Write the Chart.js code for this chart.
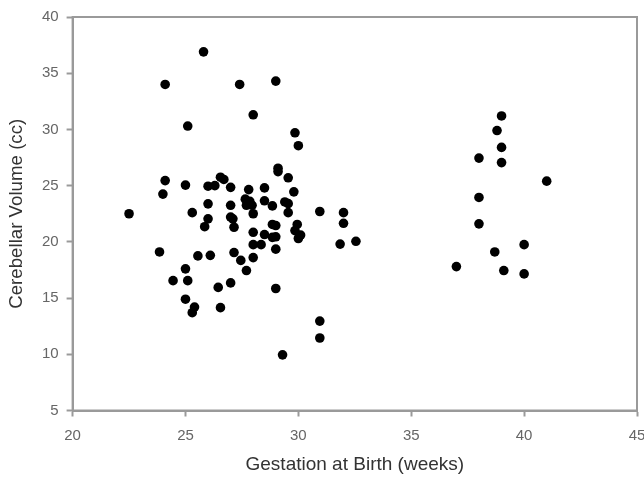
<!DOCTYPE html>
<html>
<head>
<meta charset="utf-8">
<script src="https://cdn.jsdelivr.net/npm/chart.js@4/dist/chart.umd.min.js"></script>
<style>
  html, body { margin: 0; padding: 0; background: #fff; }
  #wrap { width: 644px; height: 477px; }
</style>
</head>
<body>
<div id="wrap"><canvas id="chart"></canvas></div>
<script>
// gestation at birth (weeks) and cerebellar volume (cc)
const gestationWeeks = [
  25.8, 24.1, 27.4, 29.0, 28.0, 25.1, 29.85, 30.0, 29.1, 29.1,
  29.55, 29.8, 24.1, 24.0, 25.0, 26.0, 26.3, 26.55, 26.7, 27.0,
  27.8, 28.5, 26.0, 27.0, 27.65, 27.85, 27.7, 27.95, 28.5, 28.85,
  29.4, 29.55, 29.55, 28.0, 22.5, 25.3, 26.0, 25.85, 27.0, 27.1,
  27.15, 28.0, 28.5, 28.85, 29.0, 28.85, 29.0, 29.95, 29.85, 30.1,
  30.0, 28.0, 28.35, 29.0, 30.95, 32.0, 32.0, 31.85, 32.55, 23.85,
  25.55, 26.1, 27.15, 27.45, 28.0, 27.7, 25.0, 24.45, 25.1, 26.45,
  27.0, 29.0, 25.0, 25.4, 25.3, 26.55, 30.95, 30.95, 29.3,
  39.0, 38.8, 39.0, 38.0, 39.0, 41.0, 38.0, 38.0, 40.0, 38.7,
  37.0, 39.1, 40.0
];
const cerebellarVolume = [
  36.9, 34.0, 34.0, 34.3, 31.3, 30.3, 29.7, 28.55, 26.55, 26.25,
  25.7, 24.45, 25.45, 24.25, 25.05, 24.95, 25.0, 25.75, 25.55, 24.85,
  24.65, 24.8, 23.38, 23.25, 23.8, 23.6, 23.25, 23.25, 23.65, 23.2,
  23.55, 23.4, 22.6, 22.5, 22.5, 22.6, 22.05, 21.35, 22.2, 22.05,
  21.3, 20.85, 20.65, 21.55, 21.45, 20.4, 20.45, 21.55, 21.0, 20.6,
  20.3, 19.75, 19.75, 19.35, 22.7, 22.6, 21.65, 19.8, 20.05, 19.1,
  18.75, 18.8, 19.05, 18.35, 18.6, 17.45, 17.6, 16.55, 16.55, 15.95,
  16.35, 15.85, 14.9, 14.2, 13.7, 14.15, 12.95, 11.45, 9.95,
  31.2, 29.9, 28.4, 27.45, 27.05, 25.4, 23.95, 21.6, 19.75, 19.1,
  17.8, 17.45, 17.15
];

const xTicks = [20, 25, 30, 35, 40, 45];
const yTicks = [5, 10, 15, 20, 25, 30, 35, 40];
const xTitle = 'Gestation at Birth (weeks)';
const yTitle = 'Cerebellar Volume (cc)';

const points = gestationWeeks.map((x, i) => ({ x: x, y: cerebellarVolume[i] }));

const axisGray = '#9a9a9a';
const fontFamily = 'Liberation Sans, Arial, sans-serif';

// draws the grey frame round the plot area (top and right sides too)
const frame = {
  id: 'frame',
  afterDraw(chart) {
    const a = chart.chartArea;
    const ctx = chart.ctx;
    ctx.save();
    ctx.strokeStyle = axisGray;
    ctx.lineWidth = 2;
    ctx.strokeRect(a.left, a.top, a.right - a.left, a.bottom - a.top);
    ctx.restore();
  }
};

new Chart(document.getElementById('chart').getContext('2d'), {
  type: 'scatter',
  data: {
    datasets: [{
      data: points,
      backgroundColor: '#000',
      borderColor: '#000',
      borderWidth: 0,
      pointRadius: 4.8,
      pointHoverRadius: 4.8,
    }],
  },
  options: {
    responsive: true,
    maintainAspectRatio: false,
    animation: false,
    layout: { padding: { top: 16, right: 7, left: 0, bottom: 0 } },
    plugins: {
      legend: { display: false },
      tooltip: { enabled: false },
    },
    scales: {
      x: {
        type: 'linear',
        min: xTicks[0],
        max: xTicks[xTicks.length - 1],
        afterBuildTicks: (scale) => { scale.ticks = xTicks.map((v) => ({ value: v })); },
        afterFit: (scale) => {
          scale.height = 66.5;
          scale.paddingLeft = 0;
          scale.paddingRight = 0;
        },
        grid: { drawOnChartArea: false, drawTicks: true, tickLength: 6, tickColor: axisGray, tickWidth: 2 },
        border: { display: true, color: axisGray, width: 2 },
        ticks: { color: '#666', padding: 10, font: { family: fontFamily, size: 15 } },
        title: {
          display: true,
          text: xTitle,
          color: '#333',
          padding: { top: 0, bottom: 1 },
          font: { family: fontFamily, size: 19 },
        },
      },
      y: {
        type: 'linear',
        min: yTicks[0],
        max: yTicks[yTicks.length - 1],
        afterBuildTicks: (scale) => { scale.ticks = yTicks.map((v) => ({ value: v })); },
        afterFit: (scale) => { scale.width = 72.6; },
        grid: { drawOnChartArea: false, drawTicks: true, tickLength: 6, tickColor: axisGray, tickWidth: 2 },
        border: { display: true, color: axisGray, width: 2 },
        ticks: { color: '#666', padding: 8, font: { family: fontFamily, size: 15 } },
        title: {
          display: true,
          text: yTitle,
          color: '#333',
          padding: { top: 6, bottom: 0 },
          font: { family: fontFamily, size: 18.7 },
        },
      },
    },
  },
  plugins: [frame],
});
</script>
</body>
</html>
